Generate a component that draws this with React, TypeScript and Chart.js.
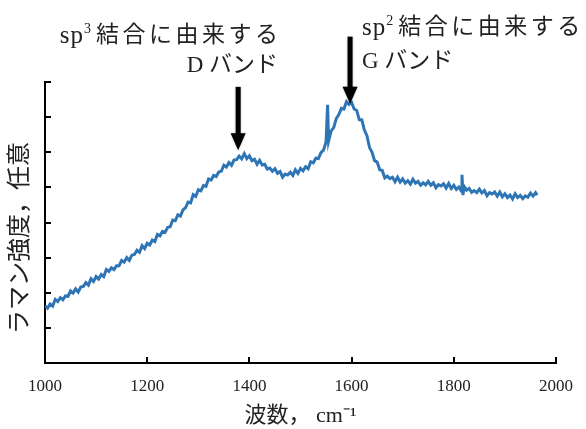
import React, { useEffect, useRef } from "react";
import { Chart, registerables } from "chart.js";

Chart.register(...registerables);

// Raman spectrum: wavenumber (cm^-1) and intensity (arbitrary units)
const wavenumbers = [
  1000, 1005, 1010, 1015, 1020, 1025, 1030, 1035, 1040, 1045,
  1050, 1055, 1060, 1065, 1070, 1075, 1080, 1085, 1090, 1095,
  1100, 1105, 1110, 1115, 1120, 1125, 1130, 1135, 1140, 1145,
  1150, 1155, 1160, 1165, 1170, 1175, 1180, 1185, 1190, 1195,
  1200, 1205, 1210, 1215, 1220, 1225, 1230, 1235, 1240, 1245,
  1250, 1255, 1260, 1265, 1270, 1275, 1280, 1285, 1290, 1295,
  1300, 1305, 1310, 1315, 1320, 1325, 1330, 1335, 1340, 1345,
  1350, 1355, 1360, 1365, 1370, 1375, 1380, 1385, 1390, 1395,
  1400, 1405, 1410, 1415, 1420, 1425, 1430, 1435, 1440, 1445,
  1450, 1455, 1460, 1465, 1470, 1475, 1480, 1485, 1490, 1495,
  1500, 1505, 1510, 1515, 1520, 1525, 1530, 1535, 1540, 1545,
  1550, 1553, 1555, 1560, 1565, 1570, 1575, 1580, 1585, 1590, 1595,
  1600, 1605, 1610, 1615, 1620, 1625, 1630, 1635, 1640, 1645,
  1650, 1655, 1660, 1665, 1670, 1675, 1680, 1685, 1690, 1695,
  1700, 1705, 1710, 1715, 1720, 1725, 1730, 1735, 1740, 1745,
  1750, 1755, 1760, 1765, 1770, 1775, 1780, 1785, 1790, 1795,
  1800, 1805, 1810, 1815, 1816, 1818, 1820, 1825, 1830, 1835, 1840, 1845,
  1850, 1855, 1860, 1865, 1870, 1875, 1880, 1885, 1890, 1895,
  1900, 1905, 1910, 1915, 1920, 1925, 1930, 1935, 1940, 1945,
  1950, 1955, 1960, 1963,
];

const intensity = [
  16.3, 15.6, 16.8, 16.2, 18.1, 17.5, 18.6, 18.0, 19.1, 19.0,
  20.5, 19.9, 21.1, 20.2, 21.6, 21.8, 22.9, 22.2, 24.0, 23.2,
  24.6, 23.9, 25.2, 24.6, 26.6, 26.1, 27.1, 26.6, 27.7, 27.7,
  29.2, 28.7, 30.0, 29.2, 30.7, 30.9, 32.1, 31.5, 33.4, 32.6,
  34.1, 33.6, 35.0, 34.6, 36.6, 36.2, 37.5, 37.2, 38.6, 38.8,
  40.7, 40.5, 42.2, 41.8, 43.6, 44.2, 45.8, 45.6, 47.9, 47.4,
  49.3, 49.0, 50.5, 50.3, 52.4, 52.1, 53.4, 53.1, 54.4, 54.6,
  56.3, 55.8, 57.1, 56.3, 57.8, 57.9, 58.9, 58.1, 59.6, 58.2,
  59.0, 57.6, 58.0, 56.6, 57.7, 56.4, 56.6, 55.2, 55.5, 54.6,
  55.3, 54.0, 54.5, 52.9, 53.8, 53.5, 54.3, 53.4, 55.0, 54.0,
  55.4, 54.7, 55.9, 55.3, 57.3, 57.0, 58.3, 58.2, 59.9, 60.6,
  62.9, 73.5, 63.2, 66.1, 67.0, 69.6, 70.7, 72.5, 72.3, 74.4, 73.6,
  74.2, 72.3, 71.9, 69.3, 69.2, 66.3, 64.7, 61.4, 60.0, 57.6,
  57.2, 55.0, 54.8, 52.7, 53.2, 52.5, 52.9, 51.6, 52.9, 51.5,
  52.4, 51.2, 51.9, 50.9, 52.3, 51.2, 51.7, 50.6, 51.3, 50.7,
  51.7, 50.6, 51.3, 49.9, 50.8, 50.4, 51.0, 49.8, 51.1, 49.7,
  50.6, 49.4, 50.1, 48.9, 53.6, 47.8, 50.3, 49.2, 49.7, 48.6, 49.1, 48.5,
  49.5, 48.4, 49.1, 47.6, 48.5, 48.1, 48.7, 47.5, 48.7, 47.3,
  48.2, 47.1, 47.8, 46.7, 48.2, 47.1, 47.7, 46.8, 47.6, 47.2,
  48.4, 47.5, 48.5, 47.8,
];

// Axis settings
const xMin = 1000;
const xMax = 2000;
const xStep = 200;
const yMin = 0;
const yMax = 80;
const yStep = 10;

// Annotation texts
const xTitle = "波数， cm⁻¹";
const yTitle = "ラマン強度，任意";
const dLabel = { pre: "sp", sup: "3", post: "結合に由来する", band: "D バンド" };
const gLabel = { pre: "sp", sup: "2", post: "結合に由来する", band: "G バンド" };

// Arrow anchors in data units: [wavenumber, tail intensity, tip intensity]
const arrowD = [1378, 78.6, 60.6];
const arrowG = [1597, 92.9, 73.8];

const FONT = "'Liberation Serif', 'Noto Sans CJK JP', serif";

function drawArrow(ctx: CanvasRenderingContext2D, x: number, y0: number, y1: number) {
  const shaftW = 5;
  const headW = 15;
  const headL = 17;
  ctx.save();
  ctx.fillStyle = "#000";
  ctx.shadowColor = "rgba(0,0,0,0.35)";
  ctx.shadowBlur = 2;
  ctx.fillRect(x - shaftW / 2, y0, shaftW, y1 - y0 - headL + 1);
  ctx.beginPath();
  ctx.moveTo(x - headW / 2, y1 - headL);
  ctx.lineTo(x + headW / 2, y1 - headL);
  ctx.lineTo(x, y1);
  ctx.closePath();
  ctx.fill();
  ctx.restore();
}

function drawSupText(
  ctx: CanvasRenderingContext2D,
  parts: { pre: string; sup: string; post: string },
  x: number,
  y: number,
  align: "left" | "right",
  size: number
) {
  const c: any = ctx;
  const pre = `25px ${FONT}`;
  const main = `${size}px ${FONT}`;
  const small = `14px ${FONT}`;
  c.letterSpacing = "1px";
  ctx.font = pre;
  const w1 = ctx.measureText(parts.pre).width;
  ctx.font = small;
  const w2 = ctx.measureText(parts.sup).width + 4;
  c.letterSpacing = "3.5px";
  ctx.font = main;
  const w3 = ctx.measureText(parts.post).width - 3.5;
  const total = w1 + w2 + w3;
  let sx = align === "left" ? x : x - total;
  ctx.textAlign = "left";
  ctx.textBaseline = "middle";
  c.letterSpacing = "1px";
  ctx.font = pre;
  ctx.fillText(parts.pre, sx, y);
  sx += w1;
  ctx.font = small;
  ctx.fillText(parts.sup, sx, y - 7);
  sx += w2;
  c.letterSpacing = "3.5px";
  ctx.font = main;
  ctx.fillText(parts.post, sx, y);
  c.letterSpacing = "0px";
}

const overlayPlugin = {
  id: "ramanOverlay",
  afterDraw(chart: any) {
    const { ctx, chartArea } = chart;
    const xs = chart.scales.x;
    const ys = chart.scales.y;
    ctx.save();
    // inward tick marks
    ctx.strokeStyle = "#000";
    ctx.lineWidth = 2;
    for (const t of ys.ticks) {
      const py = Math.round(ys.getPixelForValue(t.value));
      ctx.beginPath();
      ctx.moveTo(chartArea.left, py);
      ctx.lineTo(chartArea.left + 6, py);
      ctx.stroke();
    }
    for (const t of xs.ticks) {
      const px = Math.round(xs.getPixelForValue(t.value));
      ctx.beginPath();
      ctx.moveTo(px, chartArea.bottom);
      ctx.lineTo(px, chartArea.bottom - 6);
      ctx.stroke();
    }

    // y title (rotated)
    ctx.fillStyle = "#222";
    ctx.save();
    ctx.translate(21, 238);
    ctx.rotate(-Math.PI / 2);
    ctx.font = `24px ${FONT}`;
    ctx.textAlign = "center";
    ctx.textBaseline = "middle";
    ctx.fillText(yTitle, 0, 0);
    ctx.restore();

    // arrows
    drawArrow(ctx, xs.getPixelForValue(arrowD[0]), ys.getPixelForValue(arrowD[1]), ys.getPixelForValue(arrowD[2]));
    drawArrow(ctx, xs.getPixelForValue(arrowG[0]), ys.getPixelForValue(arrowG[1]), ys.getPixelForValue(arrowG[2]));

    // annotation texts
    ctx.fillStyle = "#222";
    drawSupText(ctx, dLabel, 278, 36, "right", 23);
    ctx.font = `23px ${FONT}`;
    ctx.textAlign = "right";
    ctx.textBaseline = "middle";
    ctx.fillText(dLabel.band, 278, 66);

    drawSupText(ctx, gLabel, 362, 28, "left", 23);
    ctx.font = `23px ${FONT}`;
    ctx.textAlign = "left";
    ctx.textBaseline = "middle";
    ctx.fillText(gLabel.band, 362, 62);
    ctx.restore();
  },
};

export default function App() {
  const canvasRef = useRef<HTMLCanvasElement | null>(null);

  useEffect(() => {
    if (!canvasRef.current) return;
    const points = wavenumbers.map((w, i) => ({ x: w, y: intensity[i] }));
    const chart = new Chart(canvasRef.current, {
      type: "line",
      data: {
        datasets: [
          {
            label: "ラマンスペクトル",
            data: points,
            borderColor: "#2e75b6",
            borderWidth: 3,
            pointRadius: 0,
            tension: 0,
            fill: false,
          },
        ],
      },
      options: {
        animation: false,
        responsive: false,
        devicePixelRatio: 1,
        layout: { padding: { top: 82, right: 30, left: 0, bottom: 0 } },
        plugins: {
          legend: { display: false },
          tooltip: { enabled: false },
        },
        scales: {
          x: {
            type: "linear",
            min: xMin,
            max: xMax,
            grid: { display: false },
            border: { display: true, color: "#000", width: 2 },
            ticks: {
              stepSize: xStep,
              color: "#222",
              padding: 5,
              font: { family: FONT, size: 17 },
              callback: (v: any) => String(v),
            },
            title: {
              display: true,
              text: xTitle,
              color: "#222",
              font: { family: FONT, size: 22 },
              padding: { top: 0, bottom: 0 },
            },
            afterFit: (scale: any) => {
              scale.height = 66;
            },
          },
          y: {
            type: "linear",
            min: yMin,
            max: yMax,
            grid: { display: false },
            border: { display: true, color: "#000", width: 2 },
            ticks: { stepSize: yStep, display: false },
            afterFit: (scale: any) => {
              scale.width = 45;
            },
          },
        },
      },
      plugins: [overlayPlugin],
    });
    return () => chart.destroy();
  }, []);

  return (
    <div style={{ position: "fixed", left: 0, top: 0, width: 586, height: 429, background: "#fff" }}>
      <canvas ref={canvasRef} width={586} height={429} style={{ width: 586, height: 429 }} />
    </div>
  );
}
